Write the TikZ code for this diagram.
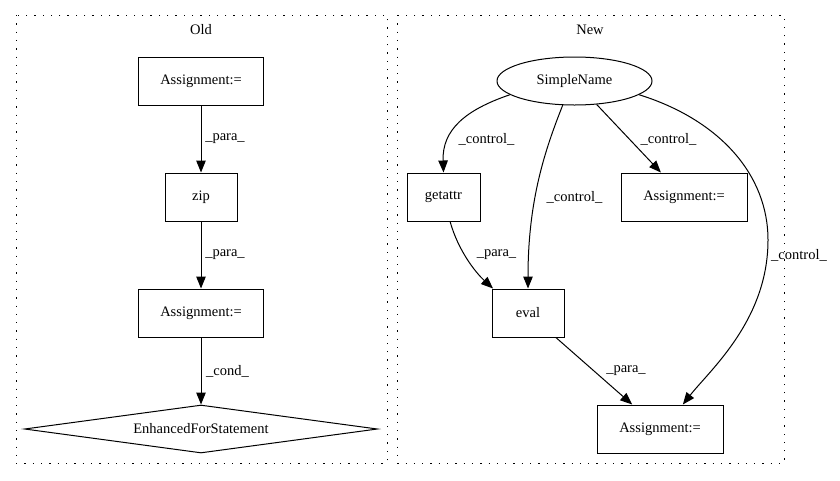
\documentclass[tikz,border=0pt]{standalone}
\usepackage{fontspec}
\setmainfont{Liberation Serif}
\usetikzlibrary{shapes.geometric,arrows.meta}
\tikzset{
  box/.style={rectangle,draw,line width=1pt,minimum height=48pt,inner sep=0pt},
  oval/.style={ellipse,draw,line width=1pt,minimum width=155pt,minimum height=48pt,inner sep=0pt},
  decision/.style={diamond,draw,line width=1pt,minimum width=353pt,minimum height=48pt,inner sep=0pt,shape aspect=7.35},
  cluster/.style={draw,line width=1pt,dash pattern=on 1.3pt off 7pt},
  lbl/.style={inner sep=0pt},
  flow/.style={line width=1pt,-{Triangle[length=12pt,width=9.5pt]}}
}
\begin{document}
\begin{tikzpicture}[x=1pt,y=-1pt,font=\fontsize{14.5pt}{17pt}\selectfont]
\useasboundingbox (0,0) rectangle (840,480);

\draw[cluster] (16,15) rectangle (387,463);
\draw[cluster] (397,15) rectangle (784,463);

\node (old) at (201,30) [lbl] {Old};
\node (new) at (590,30) [lbl] {New};

%% old side
\node (o1) at (201,81) [box,minimum width=125pt] {Assignment:=};
\node (zip) at (201,197) [box,minimum width=72pt] {zip};
\node (o2) at (201,313) [box,minimum width=125pt] {Assignment:=};
\node (efs) at (201,429) [decision] {EnhancedForStatement};

\draw[flow] (o1) -- (zip);
\draw[flow] (zip) -- (o2);
\draw[flow] (o2) -- (efs);

\node (p1) at (225,139) [lbl] {\_para\_};
\node (p2) at (225,255) [lbl] {\_para\_};
\node (c1) at (227.5,371) [lbl] {\_cond\_};

%% new side
\node (sn) at (574.5,81) [oval] {SimpleName};
\node (ga) at (443.5,197) [box,minimum width=73pt] {getattr};
\node (n1) at (684,197) [box,minimum width=126pt] {Assignment:=};
\node (ev) at (528,313) [box,minimum width=72pt] {eval};
\node (n2) at (660,429) [box,minimum width=126pt] {Assignment:=};

\draw[flow] (sn.192) .. controls (465,110) and (442,130) .. (ga.north);
\draw[flow] (sn.244) .. controls (545,150) and (528,200) .. (ev.north);
\draw[flow] (sn) -- (n1);
\draw[flow] (sn.348) .. controls (720,120) and (768,175) .. (768,240)
  .. controls (768,320) and (710,370) .. (n2.47);
\draw[flow] (ga.285) .. controls (458,250) and (475,272) .. (ev.145);
\draw[flow] (ev) -- (n2);

\node (k1) at (486.5,139) [lbl] {\_control\_};
\node (k2) at (574.5,197) [lbl] {\_control\_};
\node (k3) at (668.5,139) [lbl] {\_control\_};
\node (k4) at (799,255) [lbl] {\_control\_};
\node (p3) at (496.5,255) [lbl] {\_para\_};
\node (p4) at (626,371) [lbl] {\_para\_};

\end{tikzpicture}
\end{document}
